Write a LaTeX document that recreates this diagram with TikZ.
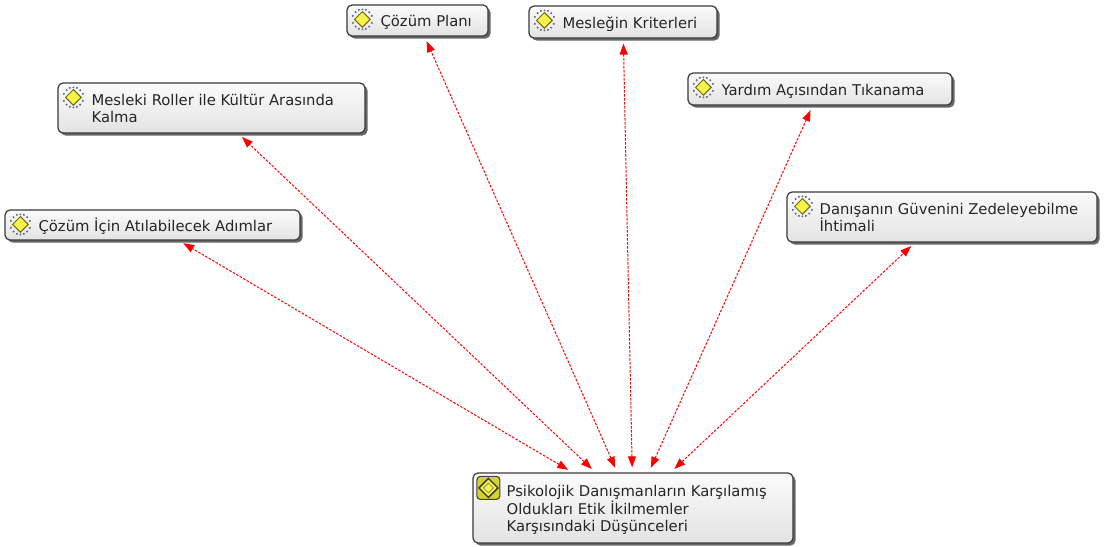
\documentclass[tikz,border=0pt]{standalone}
\usepackage{fontspec}
\setmainfont{DejaVu Sans}
\usetikzlibrary{arrows.meta,shadows,calc}
\definecolor{boxborder}{HTML}{3A3A3A}
\definecolor{boxtop}{HTML}{FBFBFB}
\definecolor{boxbot}{HTML}{E3E3E3}
\definecolor{linkred}{HTML}{FF0000}
\definecolor{gemfill}{HTML}{F8F448}
\definecolor{gemline}{HTML}{6E6A18}
\definecolor{dotcol}{HTML}{5C6478}
\begin{document}
\begin{tikzpicture}[x=1pt,y=-1pt,
  card/.style={draw=boxborder, line width=1.2pt, rounded corners=5pt,
    top color=boxtop, bottom color=boxbot, inner sep=0pt,
    drop shadow={shadow xshift=2.5pt, shadow yshift=-2.5pt, fill=black!70, opacity=0.85}},
  lbl/.style={anchor=base west, inner sep=0pt, font=\fontsize{14.8}{17.5}\selectfont, text=black!85},
  link/.style={draw=linkred, line width=1pt, dash pattern=on 2.5pt off 1.5pt,
    {Triangle[length=11pt,width=8pt]}-{Triangle[length=11pt,width=8pt]},
    shorten <=5pt, shorten >=5pt},
  gem/.pic={
    \foreach \sx in {-1,1}{\foreach \sy in {-1,1}{
      \fill[dotcol] (\sx*3.5,\sy*9.5) circle (1.1);
      \fill[dotcol] (\sx*6.8,\sy*7.2) circle (1.1);
      \fill[dotcol] (\sx*9.5,\sy*3.5) circle (1.1);
    }}
    \fill[dotcol] (0,-10) circle (1.0);
    \fill[dotcol] (0,10) circle (1.0);
    \filldraw[fill=gemfill, draw=gemline, line width=1pt]
      (0,-7.8) -- (7.8,0) -- (0,7.8) -- (-7.8,0) -- cycle;
  },
  mainicon/.pic={
    \filldraw[fill=gemfill!70!olive, draw=black!75, line width=1.1pt, rounded corners=3.5pt]
      (-11.5,-11.5) rectangle (11.5,11.5);
    \filldraw[fill=gemfill, draw=black!80, line width=1.4pt]
      (0,-9.5) -- (9.5,0) -- (0,9.5) -- (-9.5,0) -- cycle;
    \draw[black!55, line width=0.7pt] (0,-5) -- (5,0) -- (0,5) -- (-5,0) -- cycle;
  }
]
\fill[white] (0,0) rectangle (1108,546);
\useasboundingbox (0,0) rectangle (1108,546);

% boxes
\node[card, minimum width=141, minimum height=31] (plan) at (417.5,20.5) {};
\node[card, minimum width=188, minimum height=32] (krit) at (623,22) {};
\node[card, minimum width=307, minimum height=50] (roller) at (211.5,108) {};
\node[card, minimum width=264, minimum height=32] (yardim) at (820,89) {};
\node[card, minimum width=295, minimum height=30] (adim) at (152.5,225) {};
\node[card, minimum width=310, minimum height=50] (guven) at (942,217) {};
\node[card, minimum width=320, minimum height=70] (main) at (633,508) {};

% icons
\pic at ($(plan.north west)+(16,15)$) {gem};
\pic at ($(krit.north west)+(16,15)$) {gem};
\pic at ($(roller.north west)+(16,15)$) {gem};
\pic at ($(yardim.north west)+(16,15)$) {gem};
\pic at ($(adim.north west)+(16,15)$) {gem};
\pic at ($(guven.north west)+(16,15)$) {gem};
\pic at ($(main.north west)+(16,15.5)$) {mainicon};

% labels
\node[lbl] (planT) at ($(plan.west)+(34,6)$) {Çözüm Planı};
\node[lbl] (kritT) at ($(krit.west)+(34,6)$) {Mesleğin Kriterleri};
\node[lbl] (rollerT1) at ($(roller.west)+(34,-2.75)$) {Mesleki Roller ile Kültür Arasında};
\node[lbl] (rollerT2) at ($(roller.west)+(34,14.75)$) {Kalma};
\node[lbl] (yardimT) at ($(yardim.west)+(34,6)$) {Yardım Açısından Tıkanama};
\node[lbl] (adimT) at ($(adim.west)+(34,6)$) {Çözüm İçin Atılabilecek Adımlar};
\node[lbl] (guvenT1) at ($(guven.west)+(33,-2.75)$) {Danışanın Güvenini Zedeleyebilme};
\node[lbl] (guvenT2) at ($(guven.west)+(33,14.75)$) {İhtimali};
\node[lbl] (mainT1) at ($(main.west)+(34,-11.5)$) {Psikolojik Danışmanların Karşılamış};
\node[lbl] (mainT2) at ($(main.west)+(34,6)$) {Oldukları Etik İkilmemler};
\node[lbl] (mainT3) at ($(main.west)+(34,23.5)$) {Karşısındaki Düşünceleri};

% connectors
\draw[link] (main) -- (adim);
\draw[link] (main) -- (roller);
\draw[link] (main) -- (plan);
\draw[link] (main) -- (krit);
\draw[link] (main) -- (yardim);
\draw[link] (main) -- (guven);
\end{tikzpicture}
\end{document}
